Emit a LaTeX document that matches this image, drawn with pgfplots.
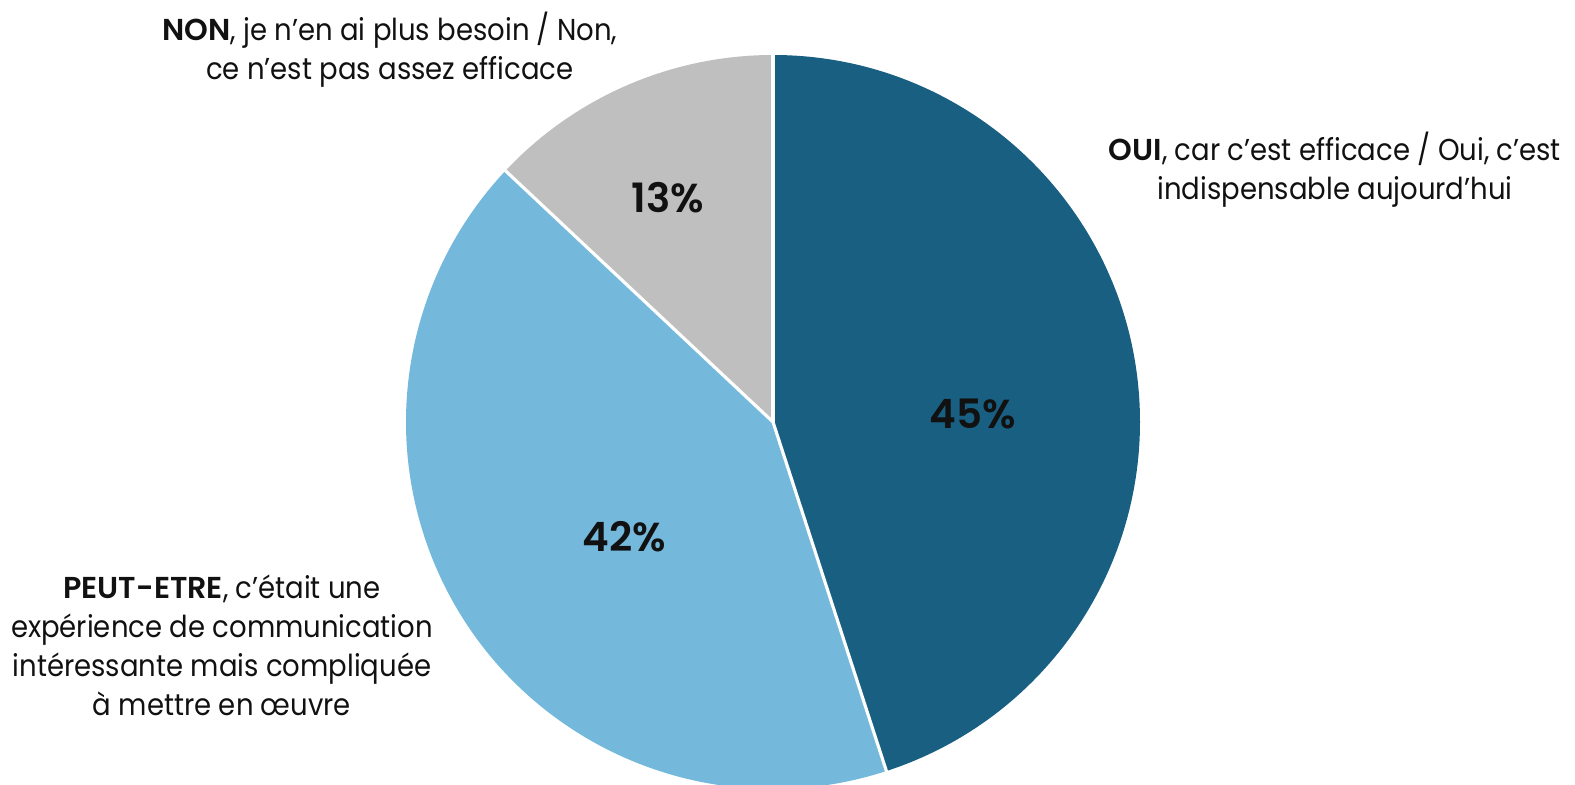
\documentclass[border=0pt]{standalone}
\usepackage{pgfplots}
\pgfplotsset{compat=1.18}
\usepackage{pgfplotstable}
\usepackage{fontspec}
\setmainfont{Poppins}[FakeStretch=0.91,BoldFont={Poppins SemiBold},BoldFeatures={FakeStretch=1.0}]
\definecolor{ouicol}{RGB}{24,95,130}
\definecolor{peutcol}{RGB}{116,185,220}
\definecolor{noncol}{RGB}{191,191,191}
\definecolor{txt}{RGB}{17,17,17}

% shares of the pie, clockwise from 12 o'clock
\pgfplotstableread{
share
45
42
13
}\piedata

\begin{document}
\begin{tikzpicture}
\pgfplotstablegetelem{0}{share}\of\piedata \pgfmathsetmacro\va{\pgfplotsretval}
\pgfplotstablegetelem{1}{share}\of\piedata \pgfmathsetmacro\vb{\pgfplotsretval}
\pgfplotstablegetelem{2}{share}\of\piedata \pgfmathsetmacro\vc{\pgfplotsretval}
\pgfmathsetmacro\aA{90}
\pgfmathsetmacro\aB{\aA-3.6*\va}
\pgfmathsetmacro\aC{\aB-3.6*\vb}
\pgfmathsetmacro\aD{\aC-3.6*\vc}
\begin{axis}[width=15.75cm,height=7.85cm,scale only axis,hide axis,
  xmin=0,xmax=1575,ymin=0,ymax=785,clip=false]
\coordinate (bl) at (axis cs:0,0);
\coordinate (tr) at (axis cs:1575,785);
\fill[ouicol] (axis cs:773,363) -- ++(\aA:3.67cm) arc[start angle=\aA,end angle=\aB,radius=3.67cm] -- cycle;
\fill[peutcol] (axis cs:773,363) -- ++(\aB:3.67cm) arc[start angle=\aB,end angle=\aC,radius=3.67cm] -- cycle;
\fill[noncol] (axis cs:773,363) -- ++(\aC:3.67cm) arc[start angle=\aC,end angle=\aD,radius=3.67cm] -- cycle;
\draw[white,line width=0.9pt] (axis cs:773,363) -- ++(\aA:3.72cm);
\draw[white,line width=0.9pt] (axis cs:773,363) -- ++(\aB:3.72cm);
\draw[white,line width=0.9pt] (axis cs:773,363) -- ++(\aC:3.72cm);
\node[txt,font=\bfseries\fontsize{11.5}{14}\selectfont] at (axis cs:973,371) {45\%};
\node[txt,font=\bfseries\fontsize{11.5}{14}\selectfont] at (axis cs:624,248) {42\%};
\node[txt,font=\bfseries\fontsize{11.5}{14}\selectfont] at (axis cs:668,587) {13\%};
\node[txt,align=center,font=\fontsize{8.6}{11.1}\selectfont] at (axis cs:390,735)
  {\textbf{NON}, je n’en ai plus besoin / Non,\\ce n’est pas assez efficace};
\node[txt,align=center,font=\fontsize{8.6}{11.1}\selectfont] at (axis cs:1335,615)
  {\textbf{OUI}, car c’est efficace / Oui, c’est\\indispensable aujourd’hui};
\node[txt,align=center,font=\fontsize{8.6}{11.1}\selectfont] at (axis cs:222,140)
  {\textbf{PEUT-ETRE}, c’était une\\expérience de communication\\intéressante mais compliquée\\à mettre en œuvre};
\end{axis}
\pgfresetboundingbox
\path (bl) rectangle (tr);
\end{tikzpicture}
\end{document}
